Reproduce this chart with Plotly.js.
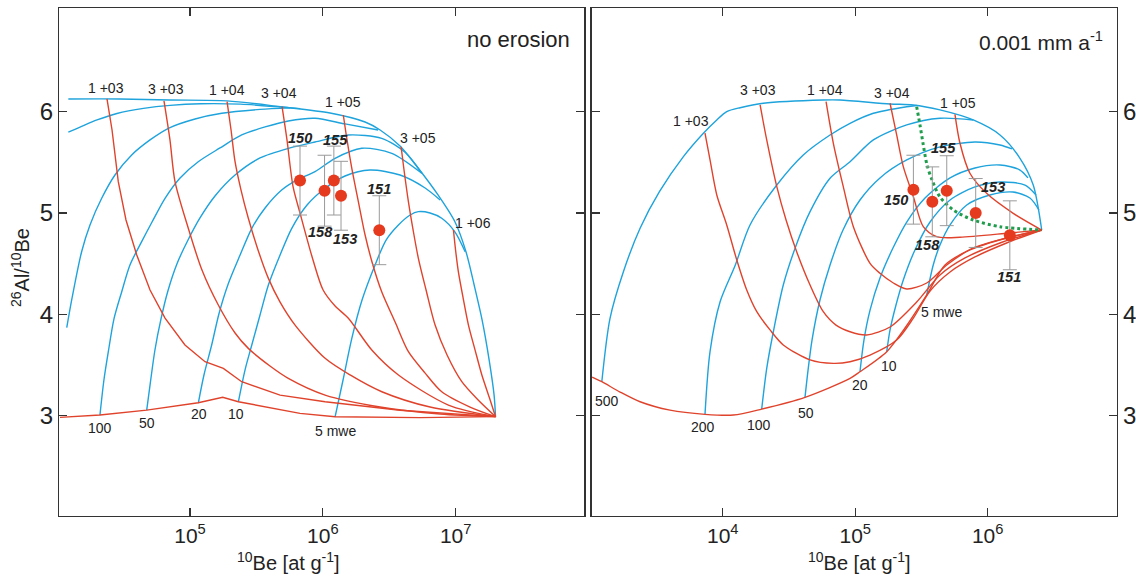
<!DOCTYPE html>
<html><head><meta charset="utf-8">
<script src="https://cdn.plot.ly/plotly-3.0.1.min.js"></script>
<style>body{margin:0;background:#fff}#plot{width:1136px;height:576px}</style>
</head><body><div id="plot"></div>
<script>
// ---------- DATA (x stored as log10 of 10Be concentration, y = 26Al/10Be) ----------
// LEFT panel: no erosion
// red isochrons (exposure time)
const L_t0   = [[4.021,2.983],[4.322,3.006],[4.674,3.055],[5.062,3.127],[5.246,3.181],[5.364,3.137],[5.828,3.023],[6.092,2.989],[6.732,2.981],[7.30,2.99]];
const L_1e3  = [[4.375,6.125],[4.413,5.819],[4.460,5.309],[4.518,4.931],[4.599,4.585],[4.699,4.24],[4.812,3.963],[4.962,3.697],[5.113,3.532],[5.251,3.467],[5.389,3.335],[5.678,3.203],[6.017,3.137],[6.581,3.054],[7.30,2.99]];
const L_3e3  = [[4.804,6.106],[4.849,5.721],[4.887,5.309],[4.987,4.849],[5.090,4.437],[5.213,4.092],[5.339,3.816],[5.439,3.664],[5.602,3.490],[5.740,3.368],[6.017,3.203],[6.431,3.085],[6.883,3.016],[7.30,2.99]];
const L_1e4  = [[5.279,6.099],[5.309,5.819],[5.339,5.506],[5.384,5.226],[5.439,4.948],[5.512,4.635],[5.590,4.355],[5.678,4.121],[5.791,3.894],[6.017,3.566],[6.205,3.402],[6.444,3.236],[6.807,3.085],[7.30,2.99]];
const L_3e4  = [[5.693,6.049],[5.730,5.721],[5.776,5.257],[5.828,5.0],[5.926,4.536],[6.002,4.240],[6.092,4.082],[6.192,3.961],[6.370,3.645],[6.569,3.401],[6.945,3.105],[7.30,2.99]];
const L_1e5  = [[6.154,5.967],[6.182,5.721],[6.218,5.441],[6.265,5.128],[6.318,4.783],[6.370,4.517],[6.443,4.223],[6.544,3.924],[6.644,3.631],[6.770,3.420],[6.895,3.236],[7.108,3.085],[7.30,2.99]];
const L_3e5  = [[6.589,5.654],[6.611,5.424],[6.644,5.112],[6.679,4.835],[6.719,4.553],[6.777,4.240],[6.845,3.894],[6.935,3.598],[7.046,3.335],[7.169,3.154],[7.30,2.99]];
const L_1e6  = [[6.983,4.832],[6.999,4.635],[7.020,4.421],[7.056,4.161],[7.096,3.894],[7.146,3.647],[7.197,3.401],[7.252,3.184],[7.30,2.99]];
// blue shielding-depth lines
const L_surf = [[4.084,6.125],[4.473,6.125],[4.849,6.115],[5.279,6.106],[5.678,6.049],[6.054,5.987],[6.318,5.898],[6.431,5.819],[6.581,5.661],[6.717,5.444],[6.867,5.178],[6.995,4.911],[7.078,4.615],[7.139,4.289],[7.199,3.943],[7.252,3.548],[7.289,3.203],[7.30,2.99]];
const L_d500 = [[4.084,5.797],[4.18,5.852],[4.30,5.918],[4.45,5.982],[4.65,6.032],[4.85,6.062],[5.08,6.078],[5.38,6.074],[5.68,6.046],[5.83,6.030]];
const L_d200 = [[4.072,3.868],[4.111,4.154],[4.184,4.618],[4.247,4.882],[4.335,5.145],[4.435,5.375],[4.561,5.573],[4.699,5.721],[4.837,5.836],[5.038,5.928],[5.239,5.984],[5.527,6.022],[5.753,6.037]];
const L_d100 = [[4.322,3.006],[4.352,3.352],[4.385,3.631],[4.428,3.957],[4.486,4.223],[4.548,4.487],[4.636,4.717],[4.714,4.911],[4.812,5.145],[4.925,5.346],[5.062,5.506],[5.226,5.642],[5.389,5.770],[5.565,5.849],[5.740,5.908],[5.941,5.935],[6.167,5.879],[6.416,5.819]];
const L_d50  = [[4.674,3.055],[4.699,3.302],[4.736,3.648],[4.782,3.957],[4.834,4.233],[4.902,4.500],[4.985,4.733],[5.075,4.951],[5.188,5.168],[5.339,5.375],[5.527,5.543],[5.753,5.642],[5.941,5.701],[6.190,5.770],[6.443,5.737],[6.619,5.599],[6.745,5.392]];
const L_d20  = [[5.0625,3.124],[5.105,3.401],[5.163,3.697],[5.218,4.006],[5.288,4.302],[5.377,4.585],[5.465,4.849],[5.565,5.049],[5.690,5.226],[5.806,5.326],[5.941,5.408],[6.092,5.540],[6.293,5.639],[6.519,5.589],[6.745,5.392]];
const L_d10  = [[5.364,3.137],[5.414,3.450],[5.465,3.697],[5.527,3.993],[5.590,4.289],[5.678,4.585],[5.766,4.849],[5.881,5.079],[6.017,5.244],[6.167,5.365],[6.355,5.424],[6.581,5.375],[6.770,5.247],[6.883,5.128]];
const L_d5   = [[6.092,2.989],[6.152,3.352],[6.218,3.763],[6.295,4.141],[6.393,4.487],[6.476,4.733],[6.569,4.882],[6.657,4.980],[6.719,5.013],[6.807,5.0],[6.895,4.948],[6.995,4.812],[7.071,4.618]];

// RIGHT panel: 0.001 mm/a erosion
const R_t0   = [[3.014,3.381],[3.087,3.335],[3.225,3.233],[3.376,3.137],[3.602,3.054],[3.866,3.013],[4.080,3.006],[4.294,3.065],[4.621,3.181],[4.961,3.368],[5.036,3.433],[5.238,3.631],[5.376,3.865],[5.540,4.191],[5.678,4.487],[5.866,4.635],[6.143,4.753],[6.408,4.832]];
const R_1e3  = [[3.866,5.787],[3.904,5.523],[3.955,5.178],[4.030,4.882],[4.106,4.536],[4.181,4.240],[4.257,4.026],[4.357,3.846],[4.457,3.698],[4.659,3.550],[4.835,3.516],[4.961,3.532],[5.112,3.598],[5.313,3.746],[5.439,3.963],[5.565,4.230],[5.716,4.418],[5.904,4.566],[6.143,4.704],[6.408,4.832]];
const R_3e3  = [[4.282,6.066],[4.332,5.721],[4.408,5.260],[4.478,4.931],[4.558,4.618],[4.659,4.289],[4.759,4.026],[4.855,3.894],[4.961,3.828],[5.087,3.796],[5.263,3.875],[5.464,4.121],[5.640,4.388],[5.829,4.556],[6.093,4.704],[6.408,4.832]];
const R_1e4  = [[4.780,6.099],[4.835,5.688],[4.910,5.260],[4.986,4.865],[5.112,4.503],[5.187,4.405],[5.288,4.309],[5.389,4.250],[5.540,4.309],[5.691,4.487],[5.891,4.655],[6.143,4.753],[6.408,4.832]];
const R_3e4  = [[5.263,6.083],[5.313,5.770],[5.363,5.457],[5.439,5.161],[5.514,4.865],[5.615,4.766],[5.791,4.760],[6.168,4.803],[6.408,4.832]];
const R_1e5  = [[5.753,5.974],[5.791,5.688],[5.866,5.392],[5.992,5.194],[6.193,4.997],[6.408,4.832]];
const R_d500 = [[3.087,3.335],[3.149,3.961],[3.250,4.421],[3.376,4.849],[3.522,5.21],[3.703,5.556],[3.854,5.787],[3.955,5.918],[4.030,6.0],[4.131,6.039],[4.306,6.083],[4.759,6.115],[4.885,6.115],[5.263,6.076],[5.438,6.066],[5.640,6.017],[5.891,5.918],[6.093,5.770],[6.244,5.540],[6.344,5.276],[6.408,4.832]];
const R_d200 = [[3.866,3.013],[3.904,3.631],[3.980,4.124],[4.095,4.487],[4.206,4.882],[4.408,5.276],[4.608,5.573],[4.810,5.770],[4.961,5.885],[5.137,5.984],[5.389,6.049],[5.464,6.061]];
const R_d100 = [[4.294,3.065],[4.332,3.467],[4.382,3.828],[4.457,4.289],[4.546,4.652],[4.659,5.013],[4.810,5.343],[4.961,5.506],[5.137,5.721],[5.389,5.869],[5.640,5.935],[5.891,5.918]];
const R_d50  = [[4.621,3.181],[4.644,3.450],[4.674,3.746],[4.734,4.141],[4.810,4.487],[4.908,4.832],[5.036,5.128],[5.187,5.346],[5.389,5.523],[5.640,5.652],[5.904,5.701],[6.093,5.671],[6.183,5.632]];
const R_d20  = [[5.036,3.433],[5.066,3.746],[5.112,4.042],[5.187,4.358],[5.285,4.654],[5.389,4.911],[5.527,5.148],[5.716,5.346],[5.904,5.444],[6.093,5.474],[6.244,5.424],[6.304,5.346]];
const R_d10  = [[5.238,3.631],[5.263,3.846],[5.308,4.092],[5.363,4.339],[5.451,4.635],[5.565,4.911],[5.716,5.128],[5.904,5.257],[6.093,5.306],[6.282,5.276],[6.365,5.178]];
const R_d5   = [[5.540,4.191],[5.589,4.487],[5.640,4.684],[5.716,4.882],[5.842,5.079],[6.017,5.178],[6.191,5.207],[6.319,5.148],[6.387,5.030]];
const R_green = [[5.464,6.049],[5.489,5.869],[5.514,5.671],[5.542,5.474],[5.580,5.326],[5.640,5.158],[5.740,5.030],[5.891,4.931],[6.093,4.865],[6.408,4.832]];

// samples
const sampleNames = ['150','158','155','153','151'];
const leftBe     = [6.73e5, 1.03e6, 1.21e6, 1.37e6, 2.66e6];
const leftRatio  = [5.32, 5.22, 5.32, 5.17, 4.83];
const leftErr    = [0.34, 0.35, 0.34, 0.34, 0.34];
const rightBe    = [2.75e5, 3.82e5, 4.91e5, 8.12e5, 1.47e6];
const rightRatio = [5.23, 5.11, 5.22, 5.00, 4.78];
const rightErr   = [0.34, 0.345, 0.345, 0.34, 0.34];

// curve labels: [text, log10 x, y]
const leftTimeLabels  = [['1 +03',4.367,6.234],['3 +03',4.819,6.224],['1 +04',5.279,6.214],['3 +04',5.670,6.185],['1 +05',6.152,6.096],['3 +05',6.717,5.74],['1 +06',7.131,4.901]];
const leftDepthLabels = [['100',4.322,2.878],['50',4.676,2.927],['20',5.068,3.017],['10',5.346,3.017],['5 mwe',6.092,2.85]];
const rightTimeLabels = [['1 +03',3.761,5.908],['3 +03',4.266,6.214],['1 +04',4.772,6.214],['3 +04',5.278,6.185],['1 +05',5.776,6.086]];
const rightDepthLabels= [['500',3.127,3.144],['200',3.851,2.888],['100',4.274,2.907],['50',4.629,3.026],['20',5.036,3.302],['10',5.255,3.49],['5 mwe',5.655,4.023]];
const leftSampleLabelPos  = [[5.828,5.74],[5.986,4.812],[6.092,5.721],[6.167,4.743],[6.423,5.237]];
const rightSampleLabelPos = [[5.308,5.128],[5.549,4.684],[5.670,5.642],[6.040,5.257],[6.161,4.368]];

// ---------- BUILD ----------
const RED = '#e0432c', BLUE = '#1ea3dc';
const traces = [];
function curve(pts, color, xa, ya, shape, extra) {
  const t = {x: pts.map(p => Math.pow(10, p[0])), y: pts.map(p => p[1]), mode: 'lines',
    line: Object.assign({color: color, width: 1.4, shape: shape || 'spline', smoothing: 0.8}, extra || {}),
    xaxis: xa, yaxis: ya, hoverinfo: 'skip', showlegend: false};
  traces.push(t);
}
[L_surf, L_d500, L_d200, L_d100, L_d50, L_d20, L_d10, L_d5].forEach(c => curve(c, BLUE, 'x', 'y'));
curve(L_t0, RED, 'x', 'y', 'linear');
curve(L_1e3, RED, 'x', 'y', 'linear');
[L_3e3, L_1e4, L_3e4, L_1e5, L_3e5, L_1e6].forEach(c => curve(c, RED, 'x', 'y'));
[R_d500, R_d200, R_d100, R_d50, R_d20, R_d10, R_d5].forEach(c => curve(c, BLUE, 'x2', 'y2'));
[R_t0, R_1e3, R_3e3, R_1e4, R_3e4, R_1e5].forEach(c => curve(c, RED, 'x2', 'y2'));
curve(R_green, '#1f9d4c', 'x2', 'y2', 'spline', {dash: 'dot', width: 3});

function samples(xs, ys, es, xa, ya) {
  traces.push({x: xs, y: ys, mode: 'markers', xaxis: xa, yaxis: ya, showlegend: false, hoverinfo: 'skip',
    marker: {size: 12, color: '#e63a1f'},
    error_y: {type: 'data', array: es, visible: true, color: '#9a9a9a', thickness: 1, width: 7}});
}
samples(leftBe, leftRatio, leftErr, 'x', 'y');
samples(rightBe, rightRatio, rightErr, 'x2', 'y2');

const FONT = 'Liberation Sans, Arial, sans-serif';
const ann = [];
function lab(arr, xr, yr, size) {
  arr.forEach(a => ann.push({text: a[0], x: a[1], y: a[2], xref: xr, yref: yr, showarrow: false,
    xanchor: 'center', yanchor: 'middle', font: {family: FONT, size: size, color: '#222'}}));
}
lab(leftTimeLabels, 'x', 'y', 14); lab(leftDepthLabels, 'x', 'y', 14);
lab(rightTimeLabels, 'x2', 'y2', 14); lab(rightDepthLabels, 'x2', 'y2', 14);
sampleNames.forEach((n, i) => {
  ann.push({text: '<b><i>' + n + '</i></b>', x: leftSampleLabelPos[i][0], y: leftSampleLabelPos[i][1], xref: 'x', yref: 'y', showarrow: false, xanchor: 'center', yanchor: 'middle', font: {family: FONT, size: 14.5, color: '#222'}});
  ann.push({text: '<b><i>' + n + '</i></b>', x: rightSampleLabelPos[i][0], y: rightSampleLabelPos[i][1], xref: 'x2', yref: 'y2', showarrow: false, xanchor: 'center', yanchor: 'middle', font: {family: FONT, size: 14.5, color: '#222'}});
});
const T = {family: FONT, size: 20, color: '#222'};
ann.push({text: 'no erosion', x: 0.5035, y: 1 - 40/576, xref: 'paper', yref: 'paper', xanchor: 'right', yanchor: 'middle', showarrow: false, font: {family: FONT, size: 22, color: '#222'}});
ann.push({text: '0.001 mm a<sup>-1</sup>', x: 0.9727, y: 1 - 41/576, xref: 'paper', yref: 'paper', xanchor: 'right', yanchor: 'middle', showarrow: false, font: {family: FONT, size: 21, color: '#222'}});
ann.push({text: '<sup>26</sup>Al/<sup>10</sup>Be', x: 20/1136, y: 1 - 268/576, xref: 'paper', yref: 'paper', xanchor: 'center', yanchor: 'middle', textangle: -90, showarrow: false, font: T});
ann.push({text: '<sup>10</sup>Be [at g<sup>-1</sup>]', x: 288/1136, y: 1 - 561/576, xref: 'paper', yref: 'paper', xanchor: 'center', yanchor: 'middle', showarrow: false, font: T});
ann.push({text: '<sup>10</sup>Be [at g<sup>-1</sup>]', x: 859/1136, y: 1 - 561/576, xref: 'paper', yref: 'paper', xanchor: 'center', yanchor: 'middle', showarrow: false, font: T});

const axBase = {showgrid: false, zeroline: false, showline: true, linecolor: '#333', linewidth: 1.5,
  mirror: 'ticks', ticks: 'inside', ticklen: 8, tickwidth: 1.3, tickcolor: '#333'};
const layout = {
  width: 1136, height: 576, margin: {l: 0, r: 0, t: 0, b: 0},
  paper_bgcolor: '#fff', plot_bgcolor: '#fff', showlegend: false,
  xaxis: Object.assign({}, axBase, {domain: [0.0522, 0.5141], type: 'log', range: [4.016, 7.966], anchor: 'y',
    tickvals: [1e5, 1e6, 1e7], ticktext: ['10<sup>5</sup>', '10<sup>6</sup>', '10<sup>7</sup>'],
    tickfont: {family: FONT, size: 21, color: '#222'}}),
  yaxis: Object.assign({}, axBase, {domain: [0.1042, 0.9856], range: [2.01, 7.02], anchor: 'x',
    tickvals: [3, 4, 5, 6], tickfont: {family: FONT, size: 24, color: '#222'}}),
  xaxis2: Object.assign({}, axBase, {domain: [0.5209, 0.983], type: 'log', range: [3.011, 6.974], anchor: 'y2',
    tickvals: [1e4, 1e5, 1e6], ticktext: ['10<sup>4</sup>', '10<sup>5</sup>', '10<sup>6</sup>'],
    tickfont: {family: FONT, size: 21, color: '#222'}}),
  yaxis2: Object.assign({}, axBase, {domain: [0.1042, 0.9856], range: [2.01, 7.02], anchor: 'x2', side: 'right',
    tickvals: [3, 4, 5, 6], tickfont: {family: FONT, size: 24, color: '#222'}}),
  annotations: ann
};
Plotly.newPlot('plot', traces, layout, {staticPlot: true, displayModeBar: false});
</script></body></html>
